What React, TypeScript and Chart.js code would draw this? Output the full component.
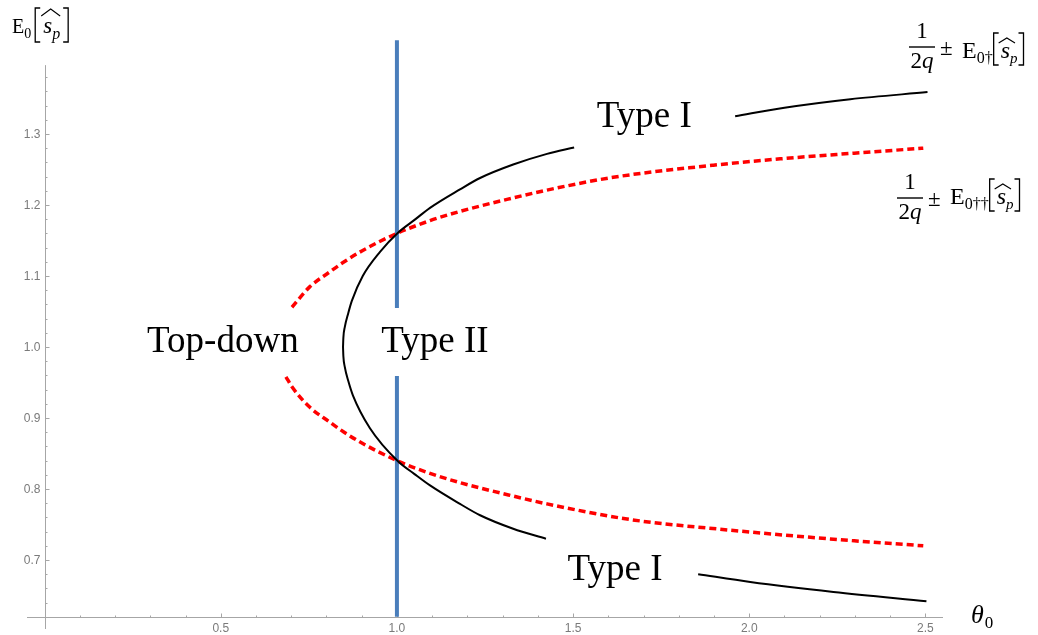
import { useEffect, useRef } from "react";
import { Chart, registerables } from "chart.js";

Chart.register(...registerables);

// ---------- data ----------
// Black solid curve, upper branch from the vertex to the gap before "Type I"
const blackUpperX = [0.847, 0.848, 0.852, 0.862, 0.872, 0.903, 0.952, 1.003, 1.05, 1.094, 1.179, 1.236, 1.33, 1.426, 1.503];
const blackUpperY = [1.0, 1.013, 1.028, 1.048, 1.065, 1.1, 1.134, 1.161, 1.179, 1.196, 1.222, 1.238, 1.257, 1.272, 1.281];
// Black solid curve, lower branch from the vertex to the gap before "Type I"
const blackLowerX = [0.847, 0.848, 0.852, 0.862, 0.875, 0.923, 1.003, 1.05, 1.094, 1.179, 1.236, 1.33, 1.423];
const blackLowerY = [1.0, 0.987, 0.972, 0.952, 0.932, 0.886, 0.839, 0.821, 0.805, 0.779, 0.763, 0.744, 0.73];
// Black solid curve, far right pieces (after the "Type I" labels)
const blackUpperFarX = [1.96, 2.1, 2.287, 2.506];
const blackUpperFarY = [1.325, 1.337, 1.349, 1.359];
const blackLowerFarX = [1.855, 2.003, 2.239, 2.503];
const blackLowerFarY = [0.68, 0.669, 0.655, 0.642];
// Red dashed curves
const redUpperX = [0.702, 0.753, 0.81, 0.847, 0.903, 1.0, 1.094, 1.179, 1.33, 1.426, 1.614, 1.898, 2.088, 2.298, 2.494];
const redUpperY = [1.056, 1.085, 1.106, 1.119, 1.136, 1.16, 1.178, 1.191, 1.21, 1.221, 1.239, 1.256, 1.265, 1.273, 1.28];
const redLowerX = [0.685, 0.702, 0.753, 0.81, 0.847, 0.903, 1.0, 1.094, 1.179, 1.33, 1.426, 1.662, 1.946, 2.298, 2.494];
const redLowerY = [0.958, 0.944, 0.915, 0.894, 0.881, 0.864, 0.84, 0.822, 0.809, 0.79, 0.779, 0.757, 0.742, 0.727, 0.72];
// Blue vertical line at theta0 = 1 (broken around the "Type II" label)
const blueX = 1.0;
const blueLowerY = [0.62, 0.959];
const blueUpperY = [1.055, 1.432];

// Ticks
const xMajorTicks = [0.5, 1.0, 1.5, 2.0, 2.5];
const xTickLabels = ["0.5", "1.0", "1.5", "2.0", "2.5"];
const yMajorTicks = [0.7, 0.8, 0.9, 1.0, 1.1, 1.2, 1.3];
const yTickLabels = ["0.7", "0.8", "0.9", "1.0", "1.1", "1.2", "1.3"];
const xMinorStep = 0.1;
const yMinorStep = 0.02;

// Region labels
const regionLabels = ["Top-down", "Type II", "Type I", "Type I"];
const regionLabelX = [0.506, 1.108, 1.702, 1.619];
const regionLabelY = [0.993, 0.993, 1.31, 0.672];

// Plot range / axes
const X_MIN = -0.05;
const X_MAX = 2.55;
const Y_MIN = 0.6028;
const Y_MAX = 1.4324;
const AXIS_X0 = 0;
const AXIS_Y0 = 0.62;
const Y_AXIS_TOP = 1.397;

const pts = (xs: number[], ys: number[]) => xs.map((x, i) => ({ x, y: ys[i] }));

const SERIF = '"Liberation Serif", "DejaVu Serif", serif';

function txt(ctx: CanvasRenderingContext2D, s: string, x: number, y: number, font: string, align: CanvasTextAlign = "left") {
  ctx.font = font;
  ctx.textAlign = align;
  ctx.textBaseline = "alphabetic";
  ctx.fillText(s, x, y);
  return ctx.measureText(s).width;
}

function bracket(ctx: CanvasRenderingContext2D, x: number, top: number, bottom: number, left: boolean) {
  const w = 5;
  ctx.save();
  ctx.lineWidth = 1.3;
  ctx.strokeStyle = "#000";
  ctx.beginPath();
  if (left) {
    ctx.moveTo(x + w, top);
    ctx.lineTo(x, top);
    ctx.lineTo(x, bottom);
    ctx.lineTo(x + w, bottom);
  } else {
    ctx.moveTo(x - w, top);
    ctx.lineTo(x, top);
    ctx.lineTo(x, bottom);
    ctx.lineTo(x - w, bottom);
  }
  ctx.stroke();
  ctx.restore();
}

function hat(ctx: CanvasRenderingContext2D, x1: number, x2: number, yTop: number, yBase: number) {
  ctx.save();
  ctx.lineWidth = 1.1;
  ctx.strokeStyle = "#000";
  ctx.beginPath();
  ctx.moveTo(x1, yBase);
  ctx.lineTo((x1 + x2) / 2, yTop);
  ctx.lineTo(x2, yBase);
  ctx.stroke();
  ctx.restore();
}

function formula(ctx: CanvasRenderingContext2D, barLeft: number, barY: number, eX: number, eBase: number, dagger: string) {
  const fs = 23;
  const barW = 26;
  const cx = barLeft + barW / 2;
  txt(ctx, "1", cx, barY - 9, `${fs}px ${SERIF}`, "center");
  ctx.fillRect(barLeft, barY - 0.7, barW, 1.4);
  ctx.font = `${fs}px ${SERIF}`;
  const w2 = ctx.measureText("2").width;
  ctx.font = `italic ${fs}px ${SERIF}`;
  const wq = ctx.measureText("q").width;
  const start = cx - (w2 + wq) / 2;
  txt(ctx, "2", start, barY + 21, `${fs}px ${SERIF}`);
  txt(ctx, "q", start + w2, barY + 21, `italic ${fs}px ${SERIF}`);
  txt(ctx, "±", barLeft + barW + 5, barY + 8, `${fs}px ${SERIF}`);
  let x = eX;
  x += txt(ctx, "E", x, eBase, `${fs + 1}px ${SERIF}`);
  x += txt(ctx, dagger, x, eBase + 5, `16px ${SERIF}`) + 1;
  bracket(ctx, x, eBase - 25, eBase + 7, true);
  x += 6;
  const ws = txt(ctx, "s", x + 1, eBase, `italic ${fs + 1}px ${SERIF}`);
  hat(ctx, x - 1, x + ws + 6, eBase - 20, eBase - 15);
  x += ws + 1;
  x += txt(ctx, "p", x, eBase + 5, `italic 15px ${SERIF}`) + 2;
  bracket(ctx, x + 4, eBase - 25, eBase + 7, false);
}

const mmaPlugin = {
  id: "mmaAxes",
  beforeDatasetsDraw(chart: any) {
    const ctx: CanvasRenderingContext2D = chart.ctx;
    const xs = chart.scales.x;
    const ys = chart.scales.y;
    const area = chart.chartArea;
    const ax = Math.round(xs.getPixelForValue(AXIS_X0)) + 0.5;
    const ay = Math.round(ys.getPixelForValue(AXIS_Y0)) + 0.5;
    ctx.save();
    ctx.strokeStyle = "#a6a6a6";
    ctx.lineWidth = 1;
    ctx.beginPath();
    ctx.moveTo(area.left, ay);
    ctx.lineTo(area.right, ay);
    ctx.moveTo(ax, ys.getPixelForValue(Y_MIN));
    ctx.lineTo(ax, ys.getPixelForValue(Y_AXIS_TOP));
    ctx.stroke();

    ctx.beginPath();
    for (let i = 1; i * xMinorStep <= X_MAX; i++) {
      const v = +(i * xMinorStep).toFixed(3);
      const major = xMajorTicks.some((m) => Math.abs(m - v) < 1e-6);
      const px = Math.round(xs.getPixelForValue(v)) + 0.5;
      ctx.moveTo(px, ay);
      ctx.lineTo(px, ay - (major ? 4 : 2));
    }
    for (let i = 1; AXIS_Y0 + i * yMinorStep <= Y_AXIS_TOP; i++) {
      const v = +(AXIS_Y0 + i * yMinorStep).toFixed(3);
      const major = yMajorTicks.some((m) => Math.abs(m - v) < 1e-6);
      const py = Math.round(ys.getPixelForValue(v)) + 0.5;
      ctx.moveTo(ax, py);
      ctx.lineTo(ax + (major ? 4 : 2), py);
    }
    ctx.stroke();

    ctx.fillStyle = "#7a7a7a";
    ctx.font = '12px "Liberation Sans", Arial, sans-serif';
    ctx.textBaseline = "middle";
    ctx.textAlign = "center";
    xMajorTicks.forEach((v, i) => {
      ctx.fillText(xTickLabels[i], xs.getPixelForValue(v), ay + 11);
    });
    ctx.textAlign = "right";
    yMajorTicks.forEach((v, i) => {
      ctx.fillText(yTickLabels[i], ax - 5, ys.getPixelForValue(v) + 1);
    });
    ctx.restore();
  },
  afterDatasetsDraw(chart: any) {
    const ctx: CanvasRenderingContext2D = chart.ctx;
    const xs = chart.scales.x;
    const ys = chart.scales.y;
    ctx.save();
    ctx.fillStyle = "#000";
    regionLabels.forEach((s, i) => {
      txt(ctx, s, xs.getPixelForValue(regionLabelX[i]), ys.getPixelForValue(regionLabelY[i]), `37px ${SERIF}`, "center");
    });

    // y-axis title: E0[s^_p]
    let x = 12;
    x += txt(ctx, "E", x, 33, `20px ${SERIF}`);
    x += txt(ctx, "0", x, 38, `14px ${SERIF}`) + 4;
    bracket(ctx, x, 8, 42, true);
    x += 7;
    const ws = txt(ctx, "s", x + 1, 33, `italic 23px ${SERIF}`);
    hat(ctx, x - 1, x + ws + 9, 9, 16);
    x += ws + 1;
    x += txt(ctx, "p", x, 39, `italic 16px ${SERIF}`) + 3;
    bracket(ctx, x + 5, 8, 42, false);

    // x-axis title: theta_0
    const wt = txt(ctx, "θ", 971, 623, `italic 26px ${SERIF}`);
    txt(ctx, "0", 971 + wt + 1, 628, `17px ${SERIF}`);

    formula(ctx, 909, 47, 962, 58, "0†");
    formula(ctx, 897, 198, 950, 204, "0††");
    ctx.restore();
  },
};

export default function App() {
  const ref = useRef<HTMLCanvasElement | null>(null);
  useEffect(() => {
    if (!ref.current) return;
    const black = { borderColor: "#000000", borderWidth: 2, cubicInterpolationMode: "monotone", pointRadius: 0, showLine: true, fill: false, order: 1 };
    const red = { borderColor: "#ff0000", borderWidth: 3.5, borderDash: [7, 4], cubicInterpolationMode: "monotone", pointRadius: 0, showLine: true, fill: false, order: 2 };
    const blue = { borderColor: "#4a7ebb", borderWidth: 4, tension: 0, pointRadius: 0, showLine: true, fill: false, order: 3 };
    const chart = new Chart(ref.current, {
      type: "scatter",
      data: {
        datasets: [
          { ...black, label: "black upper", data: pts(blackUpperX, blackUpperY) },
          { ...black, label: "black lower", data: pts(blackLowerX, blackLowerY) },
          { ...black, label: "black upper far", data: pts(blackUpperFarX, blackUpperFarY) },
          { ...black, label: "black lower far", data: pts(blackLowerFarX, blackLowerFarY) },
          { ...red, label: "red upper", data: pts(redUpperX, redUpperY) },
          { ...red, label: "red lower", data: pts(redLowerX, redLowerY) },
          { ...blue, label: "blue lower", data: blueLowerY.map((y) => ({ x: blueX, y })) },
          { ...blue, label: "blue upper", data: blueUpperY.map((y) => ({ x: blueX, y })) },
        ] as any,
      },
      options: {
        animation: false,
        responsive: false,
        devicePixelRatio: 1,
        events: [],
        layout: { padding: { left: 27, right: 95, top: 40, bottom: 6 } },
        plugins: { legend: { display: false }, tooltip: { enabled: false } },
        scales: {
          x: { type: "linear", min: X_MIN, max: X_MAX, display: false },
          y: { type: "linear", min: Y_MIN, max: Y_MAX, display: false },
        },
      },
      plugins: [mmaPlugin],
    });
    return () => chart.destroy();
  }, []);
  return (
    <canvas
      ref={ref}
      width={1038}
      height={635}
      style={{ position: "absolute", left: 0, top: 0, display: "block", background: "#fff" }}
    />
  );
}
